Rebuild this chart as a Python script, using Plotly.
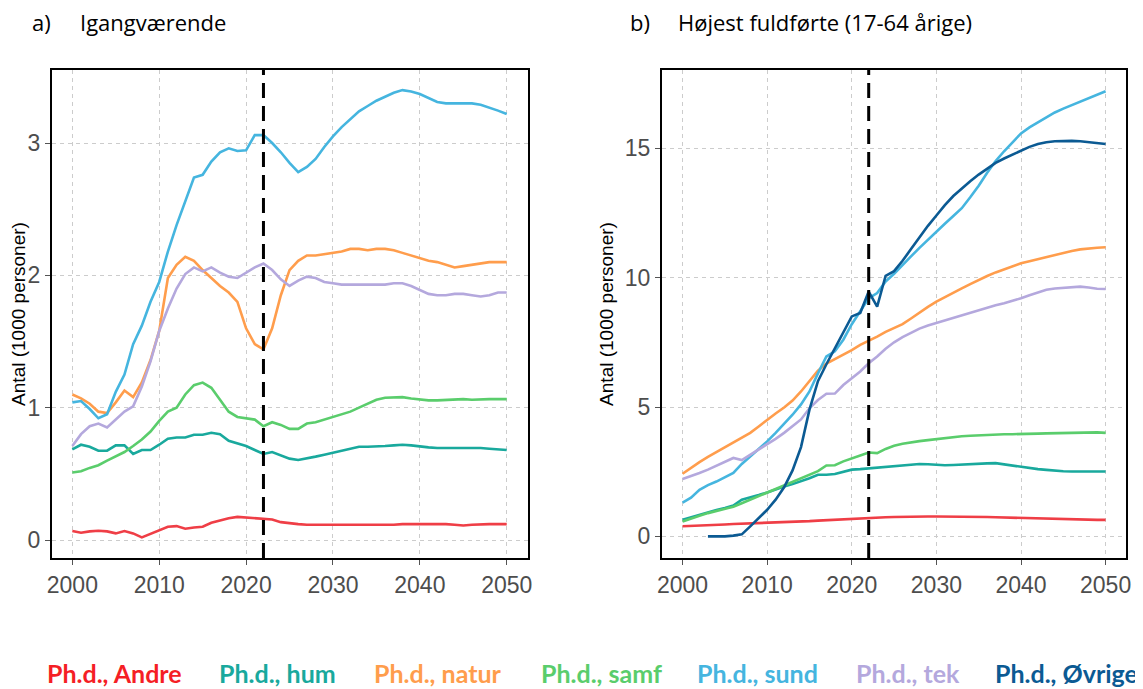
import plotly.graph_objects as go

W, H = 1143, 689
OFF = 8  # page body margin of the browser
FW, FH = W - OFF, H - OFF

years = list(range(2000, 2051))

# ---------------- Panel a) Igangværende (1000 personer) ----------------
a_andre = [0.068, 0.055, 0.065, 0.07, 0.065, 0.05, 0.068, 0.05, 0.02, 0.045,
           0.07, 0.10, 0.105, 0.085, 0.095, 0.10, 0.13, 0.15, 0.165, 0.175,
           0.17, 0.165, 0.155, 0.155, 0.135, 0.125, 0.12, 0.115, 0.115, 0.11,
           0.11, 0.11, 0.11, 0.11, 0.11, 0.11, 0.115, 0.115, 0.12, 0.12,
           0.125, 0.125, 0.125, 0.12, 0.115, 0.11, 0.115, 0.12, 0.12, 0.12, 0.12]
a_hum = [0.685, 0.72, 0.705, 0.675, 0.675, 0.715, 0.715, 0.65, 0.68, 0.68,
         0.72, 0.765, 0.775, 0.775, 0.795, 0.795, 0.81, 0.80, 0.75, 0.73,
         0.71, 0.68, 0.65, 0.665, 0.64, 0.615, 0.605, 0.615, 0.63, 0.645,
         0.66, 0.68, 0.695, 0.705, 0.705, 0.705, 0.71, 0.715, 0.72, 0.715,
         0.705, 0.70, 0.695, 0.695, 0.695, 0.695, 0.70, 0.695, 0.69, 0.685, 0.68]
a_natur = [1.10, 1.07, 1.03, 0.97, 0.96, 1.04, 1.13, 1.08, 1.19, 1.36,
           1.58, 1.98, 2.08, 2.14, 2.11, 2.04, 1.98, 1.92, 1.87, 1.80,
           1.60, 1.48, 1.44, 1.60, 1.85, 2.04, 2.11, 2.15, 2.15, 2.16,
           2.17, 2.18, 2.20, 2.20, 2.19, 2.20, 2.20, 2.19, 2.17, 2.15,
           2.13, 2.11, 2.10, 2.08, 2.06, 2.07, 2.08, 2.09, 2.10, 2.10, 2.10]
a_samf = [0.51, 0.52, 0.545, 0.565, 0.60, 0.63, 0.665, 0.71, 0.76, 0.82,
          0.90, 0.97, 1.00, 1.10, 1.17, 1.19, 1.15, 1.06, 0.97, 0.93,
          0.92, 0.91, 0.86, 0.89, 0.87, 0.84, 0.84, 0.88, 0.89, 0.91,
          0.93, 0.945, 0.97, 1.00, 1.03, 1.06, 1.075, 1.08, 1.08, 1.07,
          1.06, 1.055, 1.055, 1.06, 1.065, 1.065, 1.06, 1.065, 1.065, 1.065, 1.065]
a_sund = [1.04, 1.05, 0.99, 0.92, 0.95, 1.12, 1.25, 1.48, 1.62, 1.80,
          1.95, 2.18, 2.38, 2.56, 2.74, 2.76, 2.86, 2.93, 2.96, 2.94,
          2.945, 3.06, 3.06, 3.00, 2.93, 2.85, 2.78, 2.82, 2.88, 2.97,
          3.05, 3.12, 3.18, 3.24, 3.28, 3.32, 3.35, 3.38, 3.40, 3.39,
          3.37, 3.34, 3.31, 3.30, 3.30, 3.30, 3.30, 3.29, 3.27, 3.245, 3.22]
a_tek = [0.71, 0.80, 0.86, 0.88, 0.85, 0.91, 0.97, 1.01, 1.16, 1.35,
         1.58, 1.75, 1.90, 2.01, 2.06, 2.03, 2.06, 2.02, 1.99, 1.98,
         2.02, 2.06, 2.09, 2.04, 1.97, 1.92, 1.96, 1.99, 1.98, 1.95,
         1.94, 1.93, 1.93, 1.93, 1.93, 1.93, 1.93, 1.94, 1.94, 1.92,
         1.89, 1.86, 1.85, 1.85, 1.86, 1.86, 1.85, 1.84, 1.85, 1.87, 1.87]

# ---------------- Panel b) Højest fuldførte (17-64 årige) ----------------
b_andre = [0.39, 0.40, 0.42, 0.43, 0.45, 0.46, 0.48, 0.49, 0.50, 0.51,
           0.52, 0.53, 0.55, 0.56, 0.58, 0.59, 0.61, 0.63, 0.64, 0.66,
           0.68, 0.70, 0.71, 0.73, 0.74, 0.75, 0.76, 0.76, 0.77, 0.77,
           0.77, 0.77, 0.77, 0.76, 0.76, 0.75, 0.75, 0.74, 0.73, 0.73,
           0.72, 0.71, 0.70, 0.69, 0.68, 0.67, 0.66, 0.65, 0.65, 0.64, 0.64]
b_hum = [0.64, 0.74, 0.84, 0.93, 1.02, 1.10, 1.19, 1.42, 1.50, 1.60,
         1.70, 1.82, 1.93, 2.02, 2.12, 2.25, 2.38, 2.38, 2.41, 2.51,
         2.58, 2.60, 2.63, 2.64, 2.67, 2.71, 2.75, 2.78, 2.80, 2.79,
         2.77, 2.75, 2.76, 2.78, 2.80, 2.81, 2.82, 2.83, 2.78, 2.73,
         2.70, 2.65, 2.60, 2.57, 2.54, 2.52, 2.51, 2.51, 2.51, 2.51, 2.51]
b_natur = [2.42, 2.65, 2.87, 3.07, 3.25, 3.43, 3.62, 3.80, 4.00, 4.25,
           4.51, 4.75, 4.98, 5.25, 5.60, 6.00, 6.40, 6.68, 6.85, 7.05,
           7.20, 7.40, 7.55, 7.72, 7.90, 8.05, 8.20, 8.42, 8.65, 8.87,
           9.07, 9.25, 9.40, 9.58, 9.75, 9.92, 10.06, 10.20, 10.32, 10.44,
           10.55, 10.63, 10.71, 10.79, 10.88, 10.96, 11.03, 11.09, 11.13, 11.15, 11.17]
b_samf = [0.58, 0.70, 0.80, 0.90, 0.98, 1.06, 1.15, 1.28, 1.42, 1.55,
          1.68, 1.81, 1.95, 2.10, 2.25, 2.40, 2.52, 2.74, 2.75, 2.90,
          3.00, 3.13, 3.24, 3.22, 3.38, 3.50, 3.58, 3.64, 3.68, 3.72,
          3.76, 3.80, 3.84, 3.87, 3.89, 3.91, 3.93, 3.94, 3.95, 3.95,
          3.95, 3.96, 3.97, 3.98, 3.99, 4.00, 4.01, 4.02, 4.03, 4.02, 4.00]
b_sund = [1.31, 1.50, 1.80, 1.98, 2.12, 2.28, 2.45, 2.80, 3.09, 3.38,
          3.67, 4.00, 4.35, 4.70, 5.10, 5.60, 6.30, 6.95, 7.15, 7.60,
          8.20, 8.70, 9.20, 9.40, 9.85, 10.15, 10.50, 10.82, 11.15, 11.47,
          11.80, 12.08, 12.38, 12.68, 13.10, 13.55, 14.05, 14.50, 14.88, 15.24,
          15.57, 15.80, 16.00, 16.20, 16.38, 16.53, 16.67, 16.80, 16.93, 17.06, 17.20]
b_tek = [2.22, 2.32, 2.45, 2.58, 2.72, 2.88, 3.03, 2.95, 3.15, 3.35,
         3.55, 3.77, 4.00, 4.25, 4.52, 4.95, 5.27, 5.51, 5.52, 5.85,
         6.10, 6.37, 6.69, 6.95, 7.25, 7.50, 7.70, 7.88, 8.03, 8.15,
         8.25, 8.35, 8.45, 8.55, 8.65, 8.75, 8.84, 8.93, 9.01, 9.10,
         9.20, 9.32, 9.43, 9.53, 9.58, 9.61, 9.63, 9.65, 9.62, 9.57, 9.56]
b_ovrige = [None, None, None, 0.0, 0.0, 0.0, 0.03, 0.08, 0.39, 0.70,
            1.03, 1.42, 1.90, 2.55, 3.45, 4.90, 6.00, 6.65, 7.25, 7.85,
            8.50, 8.63, 9.46, 8.88, 10.07, 10.25, 10.65, 11.10, 11.55, 12.00,
            12.40, 12.80, 13.15, 13.45, 13.72, 13.98, 14.22, 14.43, 14.60, 14.76,
            14.90, 15.05, 15.16, 15.23, 15.27, 15.28, 15.28, 15.27, 15.24, 15.20, 15.16]

series_names = ["Ph.d., Andre", "Ph.d., hum", "Ph.d., natur", "Ph.d., samf",
                "Ph.d., sund", "Ph.d., tek", "Ph.d., Øvrige"]
series_colors = ["#EF3E46", "#19A99D", "#FF9D4C", "#5ACD6C",
                 "#45B5DF", "#B4A8DD", "#0B5A93"]
legend_text_colors = ["#F51E25", "#19A99D", "#FF9D4C", "#5ACD6C",
                      "#45B5DF", "#B4A8DD", "#0B5A93"]

panel_a = [a_andre, a_hum, a_natur, a_samf, a_sund, a_tek, None]
panel_b = [b_andre, b_hum, b_natur, b_samf, b_sund, b_tek, b_ovrige]

x_ticks = [2000, 2010, 2020, 2030, 2040, 2050]
a_yticks = [0, 1, 2, 3]
b_yticks = [0, 5, 10, 15]
vline_year = 2022

panel_titles = [("a)", "Igangværende"), ("b)", "Højest fuldførte (17-64 årige)")]
y_title = "Antal (1000 personer)"

fig = go.Figure()
for vals, name, col in zip(panel_a, series_names, series_colors):
    if vals is None:
        continue
    fig.add_trace(go.Scatter(x=years, y=vals, mode="lines", name=name,
                             line=dict(color=col, width=2.6),
                             xaxis="x", yaxis="y", showlegend=False))
for vals, name, col in zip(panel_b, series_names, series_colors):
    fig.add_trace(go.Scatter(x=years, y=vals, mode="lines", name=name,
                             line=dict(color=col, width=2.6),
                             xaxis="x2", yaxis="y2", showlegend=False,
                             connectgaps=False))

def px_x(p):
    return (p - OFF) / FW

def px_y(p):
    return 1 - (p - OFF) / FH

tickfont = dict(family="Liberation Sans, Arial, sans-serif", size=23, color="#4D4D4D")
common_x = dict(tickvals=x_ticks, showgrid=True, gridcolor="#CCCCCC", griddash="4px,4px",
                gridwidth=1, zeroline=False, showline=True, linecolor="black",
                linewidth=2, mirror=True, ticks="outside", ticklen=5, tickwidth=1,
                tickcolor="#555555", tickfont=tickfont, automargin=False)
common_y = dict(showgrid=True, gridcolor="#CCCCCC", griddash="4px,4px",
                gridwidth=1, zeroline=False, showline=True, linecolor="black",
                linewidth=2, mirror=True, ticks="outside", ticklen=5, tickwidth=1,
                tickcolor="#555555", tickfont=tickfont, automargin=False,
                title=dict(text=y_title, font=dict(family="Liberation Sans, Arial, sans-serif",
                                                   size=19, color="black"), standoff=6))

ydom = [px_y(558), px_y(70)]
fig.update_layout(
    width=FW, height=FH,
    margin=dict(l=0, r=0, t=0, b=0, autoexpand=False),
    paper_bgcolor="white", plot_bgcolor="white",
    xaxis=dict(domain=[px_x(52), px_x(528)], range=[1997.66, 2052.45], anchor="y", **common_x),
    yaxis=dict(domain=ydom, range=[-0.136, 3.552], tickvals=a_yticks, anchor="x", **common_y),
    xaxis2=dict(domain=[px_x(662), px_x(1126)], range=[1997.57, 2052.41], anchor="y2", **common_x),
    yaxis2=dict(domain=ydom, range=[-0.834, 18.02], tickvals=b_yticks, anchor="x2", **common_y),
    showlegend=False,
)

for xr in ["x", "x2"]:
    fig.add_shape(type="line", xref=xr, yref=("y domain" if xr == "x" else "y2 domain"),
                  x0=vline_year, x1=vline_year, y0=0, y1=1,
                  line=dict(color="black", width=3, dash="15px,8px"))

title_font = dict(family="Open Sans, Noto Sans, sans-serif", size=22, color="black")
for (lab, txt), (xa, xt) in zip(panel_titles, [(30, 78), (628, 676)]):
    fig.add_annotation(text=lab, xref="paper", yref="paper", x=px_x(xa), y=px_y(22),
                       xanchor="left", yanchor="middle", showarrow=False, font=title_font)
    fig.add_annotation(text=txt, xref="paper", yref="paper", x=px_x(xt), y=px_y(22),
                       xanchor="left", yanchor="middle", showarrow=False, font=title_font)

legend_centers = [114, 277, 438, 601, 757, 908, 1066]
for name, col, cx in zip(series_names, legend_text_colors, legend_centers):
    fig.add_annotation(text="<b>" + name + "</b>", xref="paper", yref="paper",
                       x=px_x(cx), y=px_y(673), xanchor="center", yanchor="middle",
                       showarrow=False,
                       font=dict(family="Lato, Open Sans, sans-serif", size=25, color=col))

fig.write_html("out.html")
